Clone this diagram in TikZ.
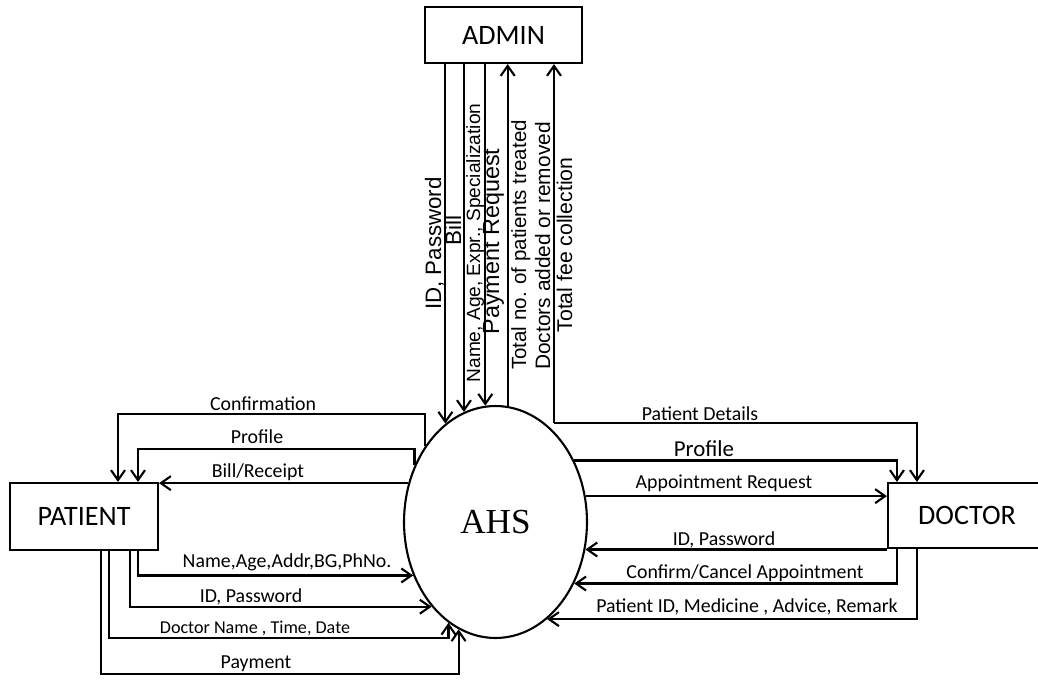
\documentclass[tikz,border=0pt]{standalone}
\usepackage{fontspec}
\setmainfont{Carlito}
\newfontfamily\arialfont{Liberation Sans}
\newfontfamily\romanfont{Liberation Serif}
\usetikzlibrary{calc,arrows.meta,shapes.geometric}

\begin{document}
\begin{tikzpicture}[x=0.02cm, y=-0.02cm, line width=1.2pt,
		box/.style={draw, rectangle, inner sep=0pt, font=\fontsize{16}{18}\selectfont},
		dfd/.style={-{Straight Barb[length=2mm,width=2.8mm]}},
		lbl/.style={inner sep=0pt, anchor=base, font=\fontsize{11.3}{13}\selectfont},
		vlbl/.style={inner sep=0pt, anchor=base, rotate=90, font=\arialfont\fontsize{#1}{#1}\selectfont}]
			%%%%% START %%%%%
			
			\useasboundingbox (0,0) rectangle (1038,680);
			\clip (0,0) rectangle (1038,680);
			
			\node[box, minimum width=3.14cm, minimum height=1.12cm] (admin) at (503.5,35) {ADMIN};
			\node[box, minimum width=2.96cm, minimum height=1.34cm] (patient) at (84,516.5) {PATIENT};
			\node[box, minimum width=3.16cm, minimum height=1.30cm] (doctor) at (967,515.5) {DOCTOR};
			\node[draw, ellipse, inner sep=0pt, minimum width=3.66cm, minimum height=4.64cm,
				font=\romanfont\fontsize{20}{22}\selectfont] (ahs) at (495.5,522) {AHS};
			\coordinate (pd) at (554,423);
			
			% admin
			\draw[dfd] (ahs.117.57 |- admin.south) -- (ahs.117.57);
			\draw[dfd] (ahs.106.13 |- admin.south) -- (ahs.106.13);
			\draw[dfd] (ahs.95.71 |- admin.south) -- (ahs.95.71);
			\draw[dfd] (ahs.84.79) -- (ahs.84.79 |- admin.south);
			\draw[dfd] (pd) -- (pd |- admin.south);
			
			\node[vlbl=12.7] (vid) at (441,243.5) {ID, Password};
			\node[vlbl=12.8] (vbill) at (461,230) {Bill};
			\node[vlbl=10.9] (vname) at (480,243) {Name, Age, Expr., Specialization};
			\node[vlbl=13.3] (vpay) at (499,241.5) {Payment Request};
			\node[vlbl=11.7] (vtot) at (526,245) {Total no. of patients treated};
			\node[vlbl=11.9] (vdoc) at (550,246) {Doctors added or removed};
			\node[vlbl=12.1] (vfee) at (572,245) {Total fee collection};
			
			% patient
			\draw[dfd] (ahs.133.65) |- (118,414) -- (118,414 |- patient.north);
			\draw[dfd] (ahs.145.61) |- (138,449) -- (138,449 |- patient.north);
			\draw[dfd] (ahs.156.27) -- (ahs.156.27 -| patient.east);
			\draw[dfd] (138,0 |- patient.south) |- (ahs.213.07);
			\draw[dfd] (130,0 |- patient.south) |- (ahs.233.76);
			\draw[dfd] (109,0 |- patient.south) |- ($(ahs.245.66)+(0,15.4)$) -- (ahs.245.66);
			\draw[dfd] (101,0 |- patient.south) |- ($(ahs.251.63)+(0,45)$) -- (ahs.251.63);
			
			\node[lbl] (tconf) at (263,410) {Confirmation};
			\node[lbl] (tprofp) at (257,443) {Profile};
			\node[lbl] (tbill) at (258,477) {Bill/Receipt};
			\node[lbl] (tname) at (287,567) {Name,Age,Addr,BG,PhNo.};
			\node[lbl] (tidp) at (251,602) {ID, Password};
			\node[lbl, font=\fontsize{10.3}{12}\selectfont] (tdoc) at (255,633) {Doctor Name , Time, Date};
			\node[lbl] (tpay) at (256,668) {Payment};
			
			% doctor
			\draw[dfd] (pd) -| ($(doctor.north west)+(30,0)$);
			\draw[dfd] (ahs.38.10) -| ($(doctor.north west)+(10,0)$);
			\draw[dfd] (ahs.16.25) -- (ahs.16.25 -| doctor.west);
			\draw[dfd] (ahs.343.12 -| doctor.west) -- (ahs.343.12);
			\draw[dfd] ($(doctor.south west)+(10,0)$) |- (ahs.322.54);
			\draw[dfd] ($(doctor.south west)+(30,0)$) |- (ahs.298.93);
			
			\node[lbl] (tpd) at (700,420) {Patient Details};
			\node[lbl, font=\fontsize{13}{15}\selectfont] (tprofd) at (704,456) {Profile};
			\node[lbl] (tappt) at (724,488) {Appointment Request};
			\node[lbl] (tidd) at (724,545) {ID, Password};
			\node[lbl] (tconfd) at (745,578) {Confirm/Cancel Appointment};
			\node[lbl] (trem) at (747,612) {Patient ID, Medicine , Advice, Remark};
			
			%%%%% END %%%%%
\end{tikzpicture}
\end{document}
